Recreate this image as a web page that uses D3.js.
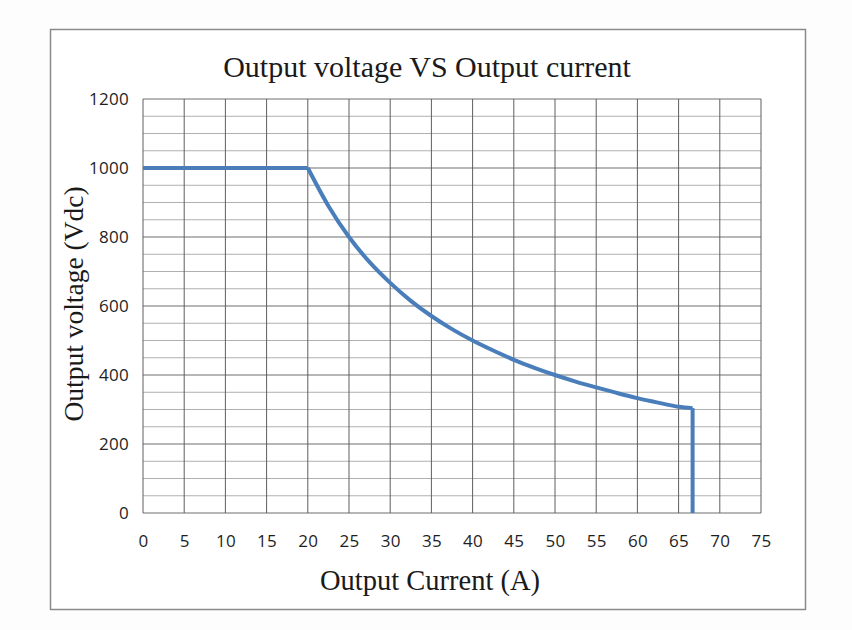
<!DOCTYPE html>
<html>
<head>
<meta charset="utf-8">
<script src="https://cdn.jsdelivr.net/npm/d3@7"></script>
<style>
  body { margin: 0; background: #fdfdfd; }
  svg { display: block; }
</style>
</head>
<body>
<svg id="chart" width="852" height="630"></svg>
<script>
// values
const flatCurrent = [0, 20];
const flatVoltage = [1000, 1000];
const current = [20, 22.5, 25, 27.5, 30, 32.5, 35, 37.5, 40, 42.5, 45, 47.5, 50, 52.5, 55, 57.5, 60, 62.5, 65, 66.7];
const voltage = [1000, 890, 800, 727, 667, 615, 571, 533, 500, 471, 444, 421, 400, 381, 364, 348, 333, 320, 308, 304];
const dropCurrent = [66.7, 66.7];
const dropVoltage = [304, 0];
const xTicks = [0, 5, 10, 15, 20, 25, 30, 35, 40, 45, 50, 55, 60, 65, 70, 75];
const yTicks = [0, 200, 400, 600, 800, 1000, 1200];

const svg = d3.select('#chart');

svg.append('rect')
  .attr('x', 50.5).attr('y', 29.5)
  .attr('width', 755).attr('height', 580)
  .attr('fill', '#ffffff')
  .attr('stroke', '#8a8a8a')
  .attr('stroke-width', 1.5);

const x = d3.scaleLinear().domain([0, 75]).range([143, 761]);
const y = d3.scaleLinear().domain([0, 1200]).range([513, 99]);

const g = svg.append('g');

// minor horizontal grid every 50
g.append('g')
  .selectAll('line')
  .data(d3.range(0, 1201, 50))
  .enter()
  .append('line')
  .attr('x1', x(0)).attr('x2', x(75))
  .attr('y1', d => y(d)).attr('y2', d => y(d))
  .attr('stroke', d => d % 200 === 0 ? '#6e6e6e' : '#b0b0b0')
  .attr('stroke-width', 1);

// vertical grid
g.append('g')
  .selectAll('line')
  .data(xTicks)
  .enter()
  .append('line')
  .attr('x1', d => x(d)).attr('x2', d => x(d))
  .attr('y1', y(0)).attr('y2', y(1200))
  .attr('stroke', '#5e5e5e')
  .attr('stroke-width', 1);

// axes (labels only)
const xAxis = g.append('g')
  .attr('transform', `translate(0,${y(0)})`)
  .call(d3.axisBottom(x).tickValues(xTicks).tickFormat(d3.format('d')).tickSize(0).tickPadding(22));
const yAxis = g.append('g')
  .attr('transform', `translate(${x(0) - 14},0)`)
  .call(d3.axisLeft(y).tickValues(yTicks).tickFormat(d3.format('d')).tickSize(0).tickPadding(0));

[xAxis, yAxis].forEach(a => {
  a.select('.domain').remove();
  a.selectAll('text')
    .style('font-family', 'Open Sans')
    .style('font-size', '17px')
    .style('letter-spacing', '0.3px')
    .attr('fill', '#1e1e1e');
});

// curve
const line = d3.line()
  .x(d => x(d[0]))
  .y(d => y(d[1]));

g.append('path')
  .datum(d3.zip(flatCurrent, flatVoltage))
  .attr('d', line.curve(d3.curveLinear))
  .attr('fill', 'none')
  .attr('stroke', '#4a7ebb')
  .attr('stroke-width', 4);

g.append('path')
  .datum(d3.zip(current, voltage))
  .attr('d', line.curve(d3.curveMonotoneX))
  .attr('fill', 'none')
  .attr('stroke', '#4a7ebb')
  .attr('stroke-width', 4)
  .attr('stroke-linejoin', 'round');

g.append('path')
  .datum(d3.zip(dropCurrent, dropVoltage))
  .attr('d', line.curve(d3.curveLinear))
  .attr('fill', 'none')
  .attr('stroke', '#4a7ebb')
  .attr('stroke-width', 4);

// titles
svg.append('text')
  .attr('x', 427).attr('y', 77)
  .attr('text-anchor', 'middle')
  .style('font-family', 'Liberation Serif')
  .style('font-size', '30px')
  .attr('fill', '#1a1a1a')
  .text('Output voltage VS Output current');

svg.append('text')
  .attr('x', 430).attr('y', 590)
  .attr('text-anchor', 'middle')
  .style('font-family', 'Liberation Serif')
  .style('font-size', '28.5px')
  .attr('fill', '#1a1a1a')
  .text('Output Current (A)');

svg.append('text')
  .attr('transform', 'translate(83,304) rotate(-90)')
  .attr('text-anchor', 'middle')
  .style('font-family', 'Liberation Serif')
  .style('font-size', '27.5px')
  .attr('fill', '#1a1a1a')
  .text('Output voltage (Vdc)');
</script>
</body>
</html>
